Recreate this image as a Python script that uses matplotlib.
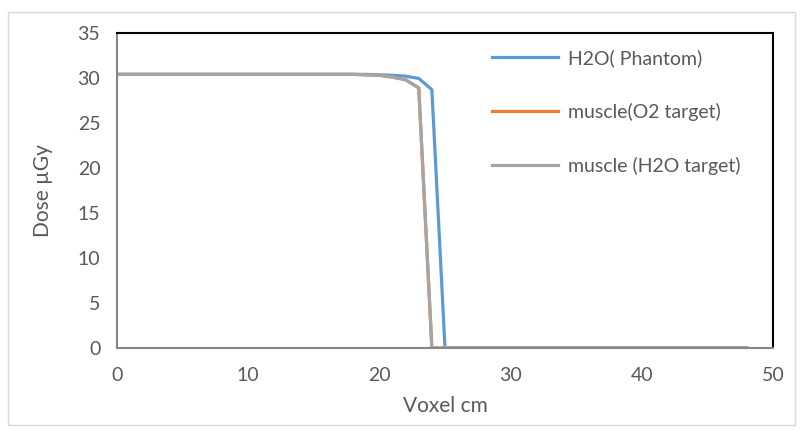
import matplotlib.pyplot as plt
from matplotlib.patches import Rectangle

# voxel positions (cm) and dose values (uGy)
voxel = list(range(0, 49))
h2o_phantom = [30.4] * 20 + [30.35, 30.3, 30.2, 29.95, 28.7] + [0.0] * 24
muscle_o2 = [30.4] * 19 + [30.35, 30.3, 30.1, 29.8, 28.9, 0.0] + [0.0] * 24
muscle_h2o = [30.4] * 19 + [30.35, 30.3, 30.1, 29.8, 28.9, 0.0] + [0.0] * 24

names = ["H2O( Phantom)", "muscle(O2 target)", "muscle (H2O target)"]
colors = ["#5B9BD5", "#ED7D31", "#A5A5A5"]

plt.rcParams['font.family'] = ['Lato', 'DejaVu Sans']
txt = "#595959"

fig = plt.figure(figsize=(8.03, 4.30), dpi=100)
ax = fig.add_axes([0.1457, 0.1907, 0.8169, 0.7326])

ax.plot(voxel, h2o_phantom, color=colors[0], lw=2.3, label=names[0])
ax.plot(voxel, muscle_o2, color=colors[1], lw=2.3, label=names[1])
ax.plot(voxel, muscle_h2o, color=colors[2], lw=2.3, label=names[2])

ax.set_xlim(0, 50)
ax.set_ylim(0, 35)
ax.set_xticks(range(0, 51, 10))
ax.set_yticks(range(0, 36, 5))
ax.tick_params(length=0, labelsize=14, colors=txt)
ax.tick_params(axis="x", pad=14)
ax.tick_params(axis="y", pad=12)
ax.set_xlabel("Voxel cm", fontsize=15, color=txt, labelpad=8)
ax.set_ylabel("Dose µGy", fontsize=15, color=txt, labelpad=18)

for s in ["top", "right"]:
    ax.spines[s].set_color("black")
    ax.spines[s].set_linewidth(1.5)
for s in ["left", "bottom"]:
    ax.spines[s].set_color("#868686")
    ax.spines[s].set_linewidth(1.5)

leg = ax.legend(loc="upper left", bbox_to_anchor=(0.545, 1.005), frameon=False,
                fontsize=14, labelspacing=1.85, handlelength=3.4, handletextpad=0.5)
for t in leg.get_texts():
    t.set_color(txt)

fig.patches.append(Rectangle((8 / 803, 5 / 430), 787 / 803, 413 / 430,
                             transform=fig.transFigure, fill=False,
                             edgecolor="#D9D9D9", lw=1))

fig.savefig("out.png", dpi=100)
